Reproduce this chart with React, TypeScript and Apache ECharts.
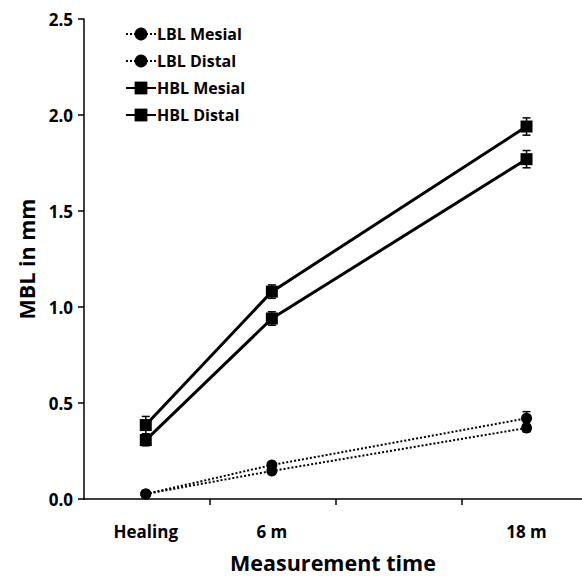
import React, { useEffect, useRef } from "react";
import * as echarts from "echarts";

const categories = ["Healing", "6 m", "18 m"];
const xPositions = [0.49, 1.49, 3.51];
const xTickValues = [1, 2, 3];
const yTicks = [0, 0.5, 1.0, 1.5, 2.0, 2.5];

const seriesNames = ["LBL Mesial", "LBL Distal", "HBL Mesial", "HBL Distal"];
const lblMesial = [0.026, 0.177, 0.42];
const lblDistal = [0.026, 0.146, 0.37];
const hblMesial = [0.385, 1.08, 1.94];
const hblDistal = [0.307, 0.94, 1.77];
const lblMesialErr = [0.01, 0.015, 0.035];
const lblDistalErr = [0.01, 0.015, 0.02];
const hblMesialErr = [0.045, 0.035, 0.045];
const hblDistalErr = [0.03, 0.035, 0.045];

const FONT = "Open Sans";

export default function App() {
  const ref = useRef<HTMLDivElement>(null);
  useEffect(() => {
    if (!ref.current) return;
    document.body.style.margin = "0";
    const chart = echarts.init(ref.current, undefined, { renderer: "svg" });
    const values = [lblMesial, lblDistal, hblMesial, hblDistal];
    const errs = [lblMesialErr, lblDistalErr, hblMesialErr, hblDistalErr];
    const lineSeries: any[] = values.map((vals, i) => ({
      name: seriesNames[i],
      type: "line",
      data: vals.map((v, j) => [xPositions[j], v]),
      symbol: i < 2 ? "circle" : "rect",
      symbolSize: i < 2 ? 11 : 12,
      itemStyle: { color: "#000" },
      lineStyle: { color: "#000", width: i < 2 ? 2 : 3, type: i < 2 ? "dotted" : "solid" },
      z: 3,
    }));
    const errData: any[] = [];
    values.forEach((vals, i) =>
      vals.forEach((v, j) => errData.push([xPositions[j], v - errs[i][j], v + errs[i][j]]))
    );
    const errSeries = {
      type: "custom",
      name: "err",
      data: errData,
      z: 4,
      renderItem: (params: any, api: any) => {
        const x = api.value(0);
        const lo = api.coord([x, api.value(1)]);
        const hi = api.coord([x, api.value(2)]);
        const w = 4;
        const st = { stroke: "#000", lineWidth: 1.5 };
        return {
          type: "group",
          children: [
            { type: "line", shape: { x1: lo[0], y1: lo[1], x2: hi[0], y2: hi[1] }, style: st },
            { type: "line", shape: { x1: lo[0] - w, y1: lo[1], x2: lo[0] + w, y2: lo[1] }, style: st },
            { type: "line", shape: { x1: hi[0] - w, y1: hi[1], x2: hi[0] + w, y2: hi[1] }, style: st },
          ],
        };
      },
    };
    chart.setOption({
      animation: false,
      backgroundColor: "#fff",
      grid: { left: 84, right: 0, top: 19, bottom: 87 },
      legend: {
        data: seriesNames,
        orient: "vertical",
        left: 120,
        top: 21,
        itemGap: 11,
        itemWidth: 30,
        itemHeight: 16,
        textStyle: { fontFamily: FONT, fontWeight: "bold", fontSize: 16, color: "#000", padding: [0, 0, 0, -4] },
      },
      xAxis: {
        type: "value",
        min: 0,
        max: 3.95,
        name: "Measurement time",
        nameLocation: "middle",
        nameGap: 52,
        nameTextStyle: { fontFamily: FONT, fontWeight: "bold", fontSize: 21.5, color: "#000" },
        splitLine: { show: false },
        axisLine: { show: true, onZero: false, lineStyle: { color: "#000", width: 1.5 } },
        axisTick: { show: true, customValues: xTickValues, length: 6, lineStyle: { color: "#000", width: 1.5 } },
        axisLabel: {
          customValues: xPositions,
          formatter: (v: number) => {
            const idx = xPositions.findIndex((p) => Math.abs(p - v) < 1e-6);
            return idx >= 0 ? categories[idx] : "";
          },
          margin: 24,
          fontFamily: FONT,
          fontWeight: "bold",
          fontSize: 17,
          color: "#000",
        },
      },
      yAxis: {
        type: "value",
        min: 0,
        max: 2.5,
        interval: 0.5,
        name: "MBL in mm",
        nameLocation: "middle",
        nameGap: 42,
        nameTextStyle: { fontFamily: FONT, fontWeight: "bold", fontSize: 21.5, color: "#000" },
        splitLine: { show: false },
        axisLine: { show: true, onZero: false, lineStyle: { color: "#000", width: 1.5 } },
        axisTick: { show: true, length: 6, lineStyle: { color: "#000", width: 1.5 } },
        axisLabel: {
          formatter: (v: number) => (yTicks.includes(v) ? v.toFixed(1) : ""),
          margin: 11,
          fontFamily: FONT,
          fontWeight: "bold",
          fontSize: 17,
          color: "#000",
        },
      },
      series: [...lineSeries, errSeries],
    });
    return () => chart.dispose();
  }, []);
  return <div ref={ref} style={{ position: "absolute", left: 0, top: 0, width: 582, height: 586, overflow: "hidden" }} />;
}
